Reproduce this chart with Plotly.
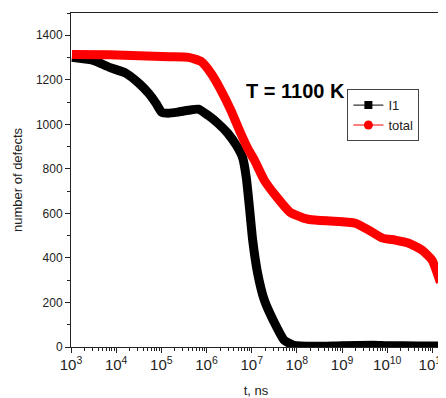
import plotly.graph_objects as go

# I1 series: time (ns) and number of defects
i1_t = [1.05e3, 3.0e3, 7.1e3, 1.66e4, 3.2e4, 5.2e4, 7.6e4, 1.02e5, 1.45e5, 2.3e5,
        4.0e5, 6.6e5, 1.07e6, 1.78e6, 2.95e6, 4.6e6, 6.3e6, 7.6e6, 8.9e6,
        1.05e7, 1.35e7, 1.9e7, 3.2e7, 5.2e7, 8.5e7, 2.3e8, 1e9, 5e9, 1e10, 5e10, 1.6e11]
i1_n = [1301, 1288, 1256, 1229, 1184, 1140, 1095, 1054, 1050, 1055,
        1063, 1068, 1041, 1005, 960, 905, 850, 760, 628,
        480, 332, 211, 108, 31, 8, 3, 6, 8, 6, 5, 5]

# total series
tot_t = [1.05e3, 7.1e3, 3.2e4, 1.5e5, 4.0e5, 7.6e5, 1.26e6, 2.09e6, 3.46e6, 5.7e6,
         8.5e6, 1.15e7, 1.9e7, 3.6e7, 7.0e7, 1.4e8, 2.5e8, 1.23e9, 2.0e9, 3.9e9,
         7.9e9, 1.5e10, 2.9e10, 5.9e10, 9.8e10, 1.5e11]
tot_n = [1314, 1312, 1308, 1304, 1301, 1282, 1229, 1153, 1063, 960,
         885, 839, 749, 673, 606, 579, 570, 561, 556, 525,
         489, 480, 467, 435, 390, 290]

fig = go.Figure()
fig.add_trace(go.Scatter(x=i1_t, y=i1_n, mode="lines", showlegend=False,
                         line=dict(color="black", width=9, shape="spline", smoothing=0.5)))
fig.add_trace(go.Scatter(x=tot_t, y=tot_n, mode="lines", showlegend=False,
                         line=dict(color="#ff0000", width=9, shape="spline", smoothing=0.5)))
# legend entries
fig.add_trace(go.Scatter(x=[None], y=[None], mode="lines+markers", name="I1",
                         line=dict(color="black", width=1),
                         marker=dict(symbol="square", size=8, color="black")))
fig.add_trace(go.Scatter(x=[None], y=[None], mode="lines+markers", name="total",
                         line=dict(color="#ff0000", width=1),
                         marker=dict(symbol="circle", size=9, color="#ff0000")))

font = "Liberation Sans, Arial, sans-serif"
fig.update_layout(
    width=438, height=390,
    margin=dict(l=63, r=0, t=5, b=51),
    paper_bgcolor="white", plot_bgcolor="white",
    font=dict(family=font, size=12, color="#222"),
    legend=dict(x=0.747, y=0.772, xanchor="left", yanchor="top",
                bordercolor="#444", borderwidth=1, bgcolor="white",
                font=dict(size=13, color="#222"), tracegroupgap=0,
                itemwidth=30),
    annotations=[dict(x=6.82, y=1150, xref="x", yref="y", text="<b>T = 1100 K</b>",
                      showarrow=False, xanchor="left", yanchor="middle",
                      font=dict(size=20, color="black", family=font))],
)
fig.update_xaxes(type="log", range=[3, 11.19], dtick=1, exponentformat="power",
                 showexponent="all", ticks="outside", ticklen=5, tickwidth=1,
                 tickcolor="#222", showline=True, linecolor="#222", linewidth=1,
                 mirror=True, showgrid=False, zeroline=False,
                 ticklabeloverflow="allow",
                 minor=dict(ticks="outside", ticklen=3, dtick="D1", tickcolor="#222", showgrid=False),
                 title=dict(text="t, ns", font=dict(size=13), standoff=14),
                 tickfont=dict(size=12))
fig.update_yaxes(range=[0, 1500], dtick=200, ticks="outside", ticklen=5, tickwidth=1,
                 tickcolor="#222", showline=True, linecolor="#222", linewidth=1,
                 showgrid=False, zeroline=False,
                 minor=dict(ticks="outside", ticklen=3, dtick=100, tickcolor="#222", showgrid=False),
                 title=dict(text="number of defects", font=dict(size=13), standoff=10),
                 tickfont=dict(size=12))

fig.write_html("out.html")
